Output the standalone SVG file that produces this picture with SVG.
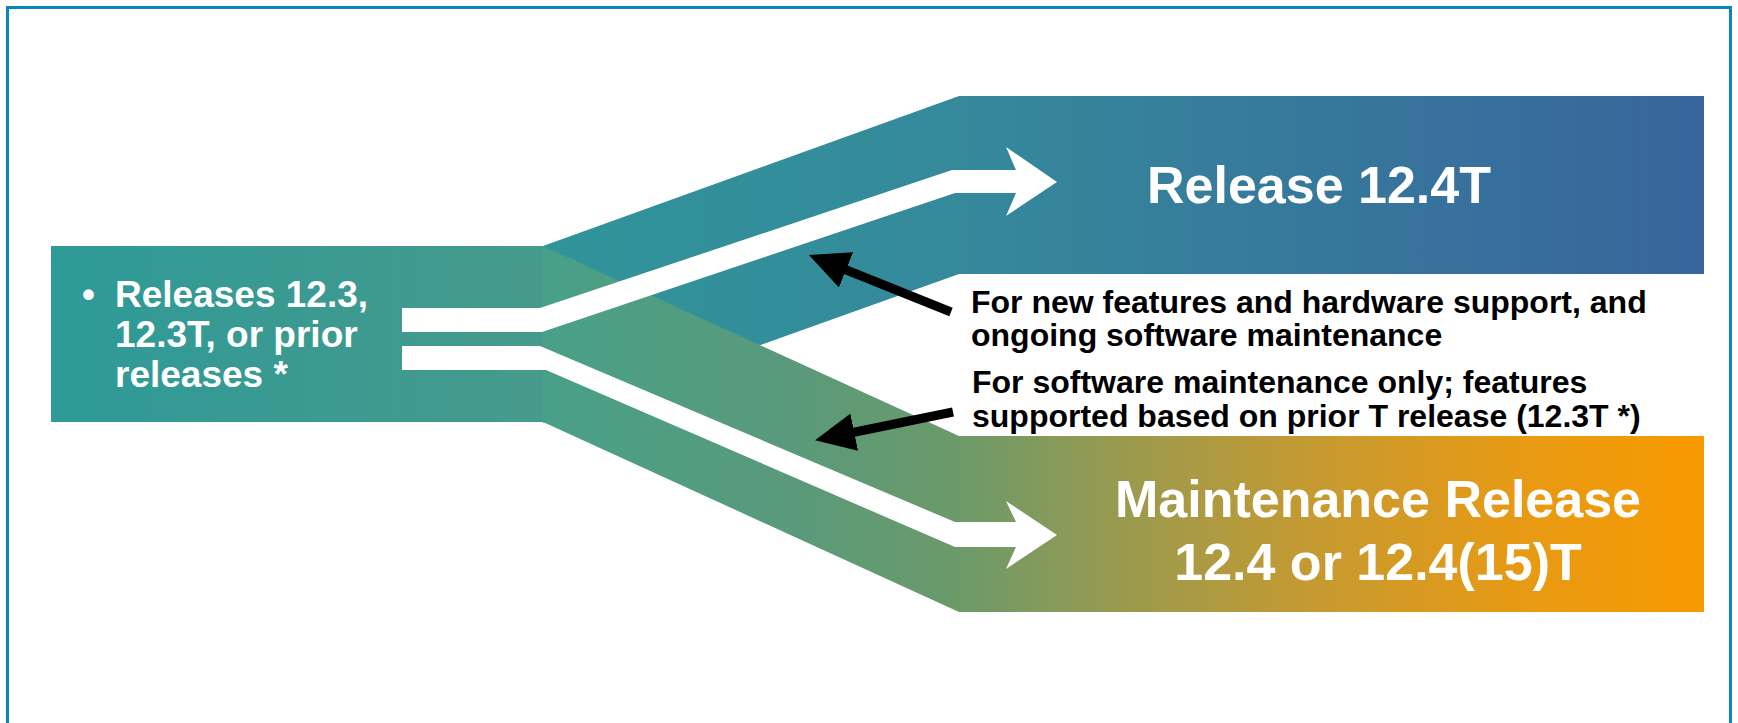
<svg xmlns="http://www.w3.org/2000/svg" width="1738" height="723" viewBox="0 0 1738 723">
<style>
.w{fill:#ffffff;font-family:"Liberation Sans",Arial,sans-serif;font-weight:bold}
.b{fill:#000000;font-family:"Liberation Sans",Arial,sans-serif;font-weight:bold;font-size:32px}
.big{font-size:52px}
.conn{stroke:#000000;stroke-width:9;fill:none}
</style>
<defs>
<linearGradient id="gBand" gradientUnits="userSpaceOnUse" x1="51" y1="0" x2="543" y2="0">
<stop offset="0" stop-color="#2e9a98"/><stop offset="1" stop-color="#469a8b"/>
</linearGradient>
<linearGradient id="gUp" gradientUnits="userSpaceOnUse" x1="543" y1="0" x2="1704" y2="0">
<stop offset="0" stop-color="#30949a"/><stop offset="0.36" stop-color="#35899b"/><stop offset="1" stop-color="#38659c"/>
</linearGradient>
<linearGradient id="gLow" gradientUnits="userSpaceOnUse" x1="543" y1="0" x2="1704" y2="0">
<stop offset="0" stop-color="#48a088"/><stop offset="0.22" stop-color="#5a9a7a"/><stop offset="0.36" stop-color="#6c9a69"/><stop offset="0.48" stop-color="#949a52"/><stop offset="0.65" stop-color="#c29a33"/><stop offset="0.82" stop-color="#e49a17"/><stop offset="1" stop-color="#f89a00"/>
</linearGradient>
<marker id="ah" markerUnits="userSpaceOnUse" markerWidth="40" markerHeight="38" viewBox="0 0 40 38" refX="9" refY="19" orient="auto">
<path d="M0,0 L40,19 L0,38 Z" fill="#000000"/>
</marker>
</defs>
<rect x="7.5" y="7.5" width="1723" height="740" fill="#ffffff" stroke="#0a84c2" stroke-width="3"/>
<g id="source">
<rect x="51" y="246" width="494" height="176" fill="url(#gBand)"/>
<text class="w" font-size="37"><tspan x="82" y="307">•</tspan><tspan x="115" y="307">Releases 12.3,</tspan><tspan x="115" y="347">12.3T, or prior</tspan><tspan x="115" y="387">releases *</tspan></text>
</g>
<g id="release124T">
<polygon points="543,246 959,96 1704,96 1704,274 959,274 543,423" fill="url(#gUp)"/>
<text class="w big" x="1319" y="203" text-anchor="middle">Release 12.4T</text>
</g>
<g id="maintenance">
<polygon points="543,246 959,436 1704,436 1704,612 959,612 543,422" fill="url(#gLow)"/>
<text class="w big" x="1378" y="517" text-anchor="middle" font-size="53">Maintenance Release</text>
<text class="w big" x="1378" y="580" text-anchor="middle" font-size="53">12.4 or 12.4(15)T</text>
</g>
<g id="connectors">
<polygon points="402,308 540,308 952,170 1016,170 1006,147 1057,182 1006,216 1016,193 955,193 542,332 402,332" fill="#ffffff"/>
<polygon points="402,346 540,346 955,522 1016,522 1006,501 1057,535 1006,569 1016,547 955,547 546,370 402,370" fill="#ffffff"/>
<line class="conn" x1="951" y1="312" x2="837.7" y2="266.5" marker-end="url(#ah)"/>
<line class="conn" x1="953" y1="412" x2="845.4" y2="434" marker-end="url(#ah)"/>
</g>
<g id="note1">
<text class="b"><tspan x="971" y="313">For new features and hardware support, and</tspan><tspan x="971" y="346">ongoing software maintenance</tspan></text>
</g>
<g id="note2">
<text class="b"><tspan x="972" y="393">For software maintenance only; features</tspan><tspan x="972" y="427">supported based on prior T release (12.3T *)</tspan></text>
</g>
</svg>
